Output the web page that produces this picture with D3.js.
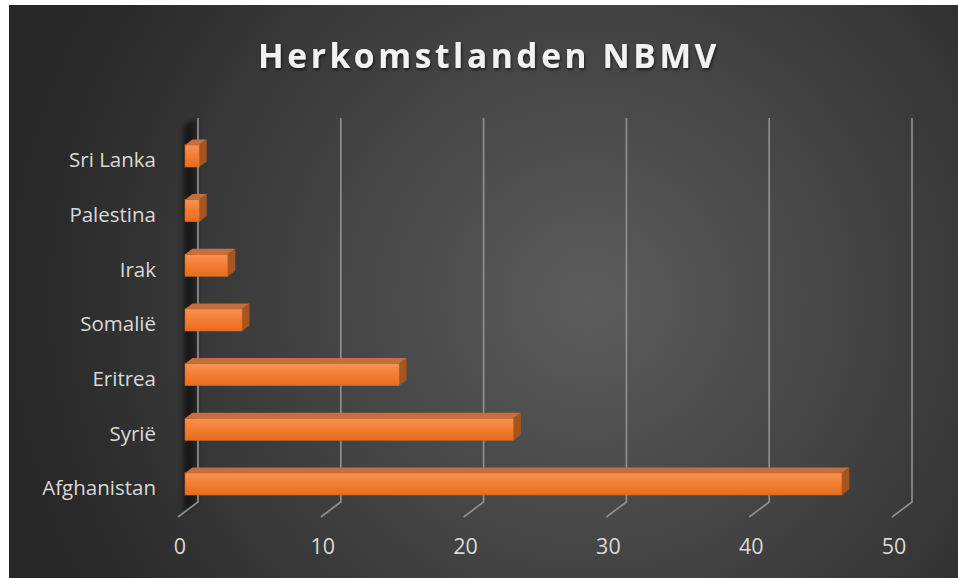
<!DOCTYPE html>
<html>
<head>
<meta charset="utf-8">
<script src="https://cdn.jsdelivr.net/npm/d3@7"></script>
<style>
  html, body { margin: 0; padding: 0; background: #ffffff; }
  svg { display: block; }
</style>
</head>
<body>
<div id="chart"></div>
<script>
const width = 958
const height = 578

// data
const categories = ["Sri Lanka", "Palestina", "Irak", "Somalië", "Eritrea", "Syrië", "Afghanistan"]
const values = [1, 1, 3, 4, 15, 23, 46]
const ticks = [0, 10, 20, 30, 40, 50]
const title = "Herkomstlanden NBMV"

const svg = d3.select("#chart")
  .append("svg")
  .attr("width", width)
  .attr("height", height)

const defs = svg.append("defs")

/* background */

const bg = defs.append("radialGradient")
  .attr("id", "bg")
  .attr("gradientUnits", "userSpaceOnUse")
  .attr("cx", 590).attr("cy", 300).attr("r", 580)
bg.append("stop").attr("offset", "0%").attr("stop-color", "#5c5c5c")
bg.append("stop").attr("offset", "100%").attr("stop-color", "#272727")

svg.append("rect")
  .attr("x", 9).attr("y", 5)
  .attr("width", width - 9).attr("height", height - 5)
  .attr("fill", "url(#bg)")

/* 3d geometry: back plane + depth vector */

const depth = [-20, 15]
const x = d3.scaleLinear().domain([0, 50]).range([198, 912])
const gridTop = 118
const gridBottom = 502

// bars sit between these depth fractions
const barFront = 0.65
const barBack = 0.28
const offX = (barFront - barBack) * -depth[0]
const offY = (barFront - barBack) * depth[1]

const y = d3.scalePoint()
  .domain(categories)
  .range([156, 484])
const barH = 22

/* left wall shadow */

const wallGrad = defs.append("linearGradient")
  .attr("id", "wall")
  .attr("x1", 0).attr("x2", 1).attr("y1", 0).attr("y2", 0)
wallGrad.append("stop").attr("offset", "0%").attr("stop-color", "#000").attr("stop-opacity", 0.05)
wallGrad.append("stop").attr("offset", "50%").attr("stop-color", "#000").attr("stop-opacity", 0.65)
wallGrad.append("stop").attr("offset", "100%").attr("stop-color", "#000").attr("stop-opacity", 0.25)

defs.append("filter").attr("id", "blur")
  .attr("x", "-50%").attr("y", "-10%").attr("width", "200%").attr("height", "120%")
  .append("feGaussianBlur").attr("stdDeviation", 2.5)

svg.append("path")
  .attr("d", `M${x(0) - 15},${gridTop + 8} L${x(0)},${gridTop} L${x(0)},${gridBottom} L${x(0) + depth[0]},${gridBottom + depth[1]} L${x(0) - 15},${gridBottom + 6} Z`)
  .attr("fill", "url(#wall)")
  .attr("filter", "url(#blur)")

/* gridlines */

svg.append("g")
  .selectAll("path")
  .data(ticks)
  .join("path")
  .attr("d", d => `M${x(d)},${gridTop} L${x(d)},${gridBottom} L${x(d) + depth[0]},${gridBottom + depth[1]}`)
  .attr("fill", "none")
  .attr("stroke", "#8e8e8e")
  .attr("stroke-width", 1.7)

/* tick labels */

svg.append("g")
  .selectAll("text")
  .data(ticks)
  .join("text")
  .attr("x", d => x(d) + depth[0] + 2)
  .attr("y", 554)
  .attr("text-anchor", "middle")
  .attr("font-family", "'Open Sans', sans-serif")
  .attr("font-size", 21.5)
  .attr("fill", "#d9d9d9")
  .text(d => d)

/* category labels */

svg.append("g")
  .selectAll("text")
  .data(categories)
  .join("text")
  .attr("x", 156)
  .attr("y", d => y(d) + 4)
  .attr("dy", "0.35em")
  .attr("text-anchor", "end")
  .attr("font-family", "'Open Sans', sans-serif")
  .attr("font-size", 20.5)
  .attr("fill", "#d9d9d9")
  .text(d => d)

/* bars */

const front = defs.append("linearGradient")
  .attr("id", "front")
  .attr("x1", 0).attr("x2", 0).attr("y1", 0).attr("y2", 1)
front.append("stop").attr("offset", "0%").attr("stop-color", "#f79255")
front.append("stop").attr("offset", "50%").attr("stop-color", "#f27d33")
front.append("stop").attr("offset", "100%").attr("stop-color", "#e86d1c")

const x0 = x(0) + barFront * depth[0]
const bars = svg.append("g")
  .selectAll("g")
  .data(categories.map((c, i) => ({ c, v: values[i] })))
  .join("g")

// top face
bars.append("path")
  .attr("d", d => {
    const x1 = x(d.v) + barFront * depth[0]
    const yt = y(d.c) - barH / 2
    return `M${x0},${yt} L${x1},${yt} L${x1 + offX},${yt - offY} L${x0 + offX},${yt - offY} Z`
  })
  .attr("fill", "#c2703f")

// right face
bars.append("path")
  .attr("d", d => {
    const x1 = x(d.v) + barFront * depth[0]
    const yt = y(d.c) - barH / 2
    const yb = yt + barH
    return `M${x1},${yt} L${x1 + offX},${yt - offY} L${x1 + offX},${yb - offY} L${x1},${yb} Z`
  })
  .attr("fill", "#a7551f")

// front face
bars.append("rect")
  .attr("x", x0)
  .attr("y", d => y(d.c) - barH / 2)
  .attr("width", d => x(d.v) - x(0))
  .attr("height", barH)
  .attr("fill", "url(#front)")
  .attr("stroke", "#d8621a")
  .attr("stroke-width", 0.6)

/* title */

const shadow = defs.append("filter").attr("id", "shadow")
  .attr("x", "-10%").attr("y", "-30%").attr("width", "120%").attr("height", "160%")
shadow.append("feDropShadow")
  .attr("dx", 1).attr("dy", 2).attr("stdDeviation", 1.5)
  .attr("flood-color", "#000").attr("flood-opacity", 0.6)

svg.append("text")
  .attr("x", 489)
  .attr("y", 68)
  .attr("text-anchor", "middle")
  .attr("font-family", "'Open Sans', sans-serif")
  .attr("font-weight", "bold")
  .attr("font-size", 33.5)
  .attr("letter-spacing", 3.6)
  .attr("fill", "#f2f2f2")
  .attr("filter", "url(#shadow)")
  .text(title)
</script>
</body>
</html>
